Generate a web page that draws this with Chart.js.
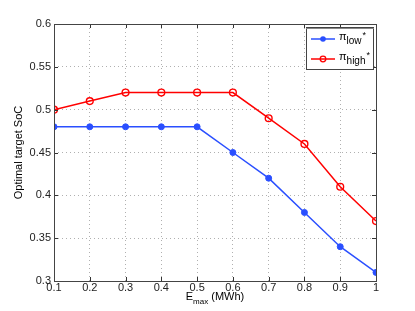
<!DOCTYPE html>
<html><head><meta charset="utf-8">
<script src="https://cdn.jsdelivr.net/npm/chart.js@4/dist/chart.umd.min.js"></script>
<style>html,body{margin:0;padding:0;background:#fff}#wrap{width:415px;height:311px}</style>
</head><body><div id="wrap"><canvas id="c" width="415" height="311"></canvas></div>
<script>
const eMax = [0.1,0.2,0.3,0.4,0.5,0.6,0.7,0.8,0.9,1.0];
const piLow = [0.48,0.48,0.48,0.48,0.48,0.45,0.42,0.38,0.34,0.31];
const piHigh = [0.50,0.51,0.52,0.52,0.52,0.52,0.49,0.46,0.41,0.37];
const xTitle = ['E','max',' (MWh)'];
const yTitle = 'Optimal target SoC';
const legendLabels = [['π','low','*'],['π','high','*']];
const FONT = '"Liberation Sans", Arial, sans-serif';

const deco = {
  id:'deco',
  afterDraw(chart){
    const {ctx, chartArea:a, scales:{x,y}} = chart;
    ctx.save();
    // inward ticks
    ctx.strokeStyle='#333'; ctx.lineWidth=1;
    eMax.forEach(v=>{const px=Math.round(x.getPixelForValue(v))+0.5;
      ctx.beginPath();ctx.moveTo(px,a.bottom);ctx.lineTo(px,a.bottom-4);ctx.moveTo(px,a.top);ctx.lineTo(px,a.top+4);ctx.stroke();});
    for(let v=0.3;v<=0.6001;v+=0.05){const py=Math.round(y.getPixelForValue(v))+0.5;
      ctx.beginPath();ctx.moveTo(a.left,py);ctx.lineTo(a.left+4,py);ctx.moveTo(a.right,py);ctx.lineTo(a.right-4,py);ctx.stroke();}
    // box
    ctx.strokeStyle='#444';ctx.strokeRect(Math.round(a.left)+0.5,Math.round(a.top)+0.5,Math.round(a.right-a.left),Math.round(a.bottom-a.top));
    // y title
    ctx.fillStyle='#000';ctx.font='11px '+FONT;ctx.textAlign='center';ctx.textBaseline='middle';
    ctx.translate(19,(a.top+a.bottom)/2);ctx.rotate(-Math.PI/2);ctx.fillText(yTitle,0,0);
    ctx.setTransform(1,0,0,1,0,0);
    // x title with subscript
    ctx.textBaseline='alphabetic';ctx.textAlign='left';
    const f1='11px '+FONT, f2='8px '+FONT;
    ctx.font=f1;const w1=ctx.measureText(xTitle[0]).width, w3=ctx.measureText(xTitle[2]).width;
    ctx.font=f2;const w2=ctx.measureText(xTitle[1]).width;
    let sx=(a.left+a.right)/2-(w1+w2+w3)/2, by=300;
    ctx.font=f1;ctx.fillText(xTitle[0],sx,by);sx+=w1;
    ctx.font=f2;ctx.fillText(xTitle[1],sx,by+4);sx+=w2;
    ctx.font=f1;ctx.fillText(xTitle[2],sx,by);
    // legend
    const lx=306, ly=27, lw=67, lh=42;
    ctx.fillStyle='#fff';ctx.fillRect(lx,ly,lw,lh);
    ctx.strokeStyle='#444';ctx.lineWidth=1;ctx.strokeRect(lx+0.5,ly+0.5,lw,lh);
    ctx.strokeStyle='#888';ctx.beginPath();ctx.moveTo(lx,ly+1.5);ctx.lineTo(lx+lw+1,ly+1.5);ctx.stroke();
    const cols=['#2a4fff','#ff0000'];
    [39,59].forEach((yy,i)=>{
      ctx.strokeStyle=cols[i];ctx.lineWidth=1.5;
      ctx.beginPath();ctx.moveTo(311,yy);ctx.lineTo(335,yy);ctx.stroke();
      ctx.beginPath();ctx.arc(323,yy,2.8,0,Math.PI*2);
      if(i===0){ctx.fillStyle=cols[i];ctx.fill();}else{ctx.lineWidth=1.3;ctx.stroke();}
      ctx.fillStyle='#000';ctx.lineWidth=1;
      let tx=339;
      ctx.font='11px '+FONT;ctx.fillText(legendLabels[i][0],tx,yy+1);tx+=ctx.measureText(legendLabels[i][0]).width;
      ctx.font='10px '+FONT;ctx.fillText(legendLabels[i][1],tx,yy+5);tx+=ctx.measureText(legendLabels[i][1]).width;
      ctx.font='9px '+FONT;ctx.fillText(legendLabels[i][2],tx+1,yy-1);
    });
    ctx.restore();
  }
};

new Chart(document.getElementById('c'),{
  type:'line',
  data:{datasets:[
    {label:'low',data:eMax.map((v,i)=>({x:v,y:piLow[i]})),borderColor:'#2a4fff',backgroundColor:'#2a4fff',borderWidth:1.5,pointRadius:3,pointBorderWidth:1,pointStyle:'circle',tension:0},
    {label:'high',data:eMax.map((v,i)=>({x:v,y:piHigh[i]})),borderColor:'#ff0000',backgroundColor:'rgba(0,0,0,0)',borderWidth:1.5,pointRadius:3.4,pointBorderWidth:1.4,pointStyle:'circle',tension:0}
  ]},
  options:{
    responsive:false,animation:false,devicePixelRatio:1,
    layout:{padding:{left:0,top:24,right:39,bottom:0}},
    plugins:{legend:{display:false},tooltip:{enabled:false}},
    scales:{
      x:{type:'linear',min:0.1,max:1,
        ticks:{stepSize:0.1,color:'#222',font:{family:FONT,size:11},padding:0,maxRotation:0,autoSkip:false,
          callback:v=>String(Math.round(v*10)/10)},
        grid:{color:'#b0b0b0',lineWidth:1,drawTicks:false,tickLength:0},
        border:{display:false,dash:[1,3]},
        afterFit(s){s.height=30;}},
      y:{min:0.3,max:0.6,
        ticks:{stepSize:0.05,color:'#222',font:{family:FONT,size:11},padding:3,
          callback:v=>String(Math.round(v*100)/100)},
        grid:{color:'#b0b0b0',lineWidth:1,drawTicks:false,tickLength:0},
        border:{display:false,dash:[1,3]},
        afterFit(s){s.width=54;}}
    }
  },
  plugins:[deco]
});
</script></body></html>
